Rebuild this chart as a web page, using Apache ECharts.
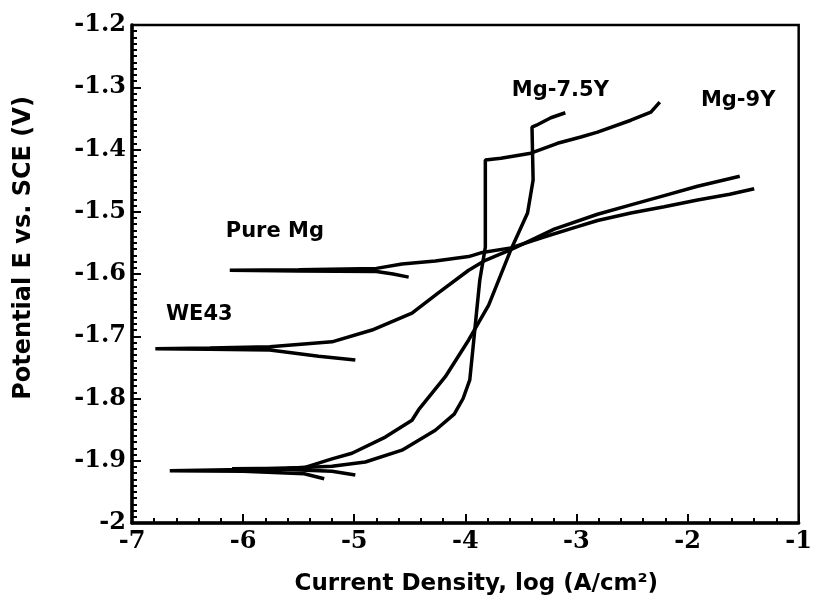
<!DOCTYPE html>
<html>
<head>
<meta charset="utf-8">
<script src="https://cdn.jsdelivr.net/npm/echarts@6/dist/echarts.min.js"></script>
<style>html,body{margin:0;padding:0;background:#fff;}#c{width:815px;height:601px;}</style>
</head>
<body>
<div id="c"></div>
<script>
// Pure Mg
var pureMgX = [-4.51, -4.65, -4.80, -5.50, -6.12, -5.50, -4.80, -4.57, -4.27, -3.97, -3.86, -3.59, -3.30, -2.99, -2.81, -2.51, -2.21, -1.91, -1.62, -1.40];
var pureMgY = [-1.605, -1.600, -1.596, -1.595, -1.594, -1.593, -1.591, -1.584, -1.579, -1.572, -1.566, -1.558, -1.541, -1.524, -1.514, -1.502, -1.492, -1.481, -1.472, -1.463];
// WE43
var we43X = [-4.99, -5.32, -5.76, -6.30, -6.79, -6.30, -5.76, -5.20, -4.84, -4.48, -4.24, -3.97, -3.82, -3.59, -3.20, -2.81, -2.51, -2.21, -1.91, -1.53];
var we43Y = [-1.738, -1.732, -1.722, -1.721, -1.720, -1.719, -1.717, -1.709, -1.690, -1.663, -1.630, -1.594, -1.578, -1.561, -1.528, -1.504, -1.489, -1.474, -1.459, -1.443];
// Mg-7.5Y
var mg75X = [-5.27, -5.45, -6.00, -6.66, -6.00, -5.45, -5.20, -5.02, -4.72, -4.48, -4.42, -4.18, -3.97, -3.79, -3.59, -3.44, -3.39, -3.40, -3.36, -3.23, -3.10];
var mg75Y = [-1.929, -1.921, -1.917, -1.916, -1.914, -1.911, -1.897, -1.888, -1.862, -1.835, -1.818, -1.765, -1.706, -1.650, -1.561, -1.502, -1.449, -1.364, -1.361, -1.349, -1.341];
// Mg-9Y
var mg9X = [-4.99, -5.20, -5.60, -6.10, -5.60, -5.20, -4.90, -4.57, -4.27, -4.10, -4.02, -3.96, -3.93, -3.90, -3.87, -3.82, -3.82, -3.68, -3.41, -3.17, -2.96, -2.81, -2.51, -2.33, -2.25];
var mg9Y = [-1.923, -1.917, -1.914, -1.913, -1.912, -1.909, -1.902, -1.883, -1.851, -1.825, -1.800, -1.770, -1.717, -1.663, -1.610, -1.557, -1.417, -1.414, -1.406, -1.390, -1.380, -1.372, -1.353, -1.340, -1.324];

// curve labels (data coordinates)
var labelNames = ['Pure Mg', 'WE43', 'Mg-7.5Y', 'Mg-9Y'];
var labelX = [-5.71, -6.39, -3.14, -1.54];
var labelY = [-1.533, -1.666, -1.306, -1.322];

var xTitle = 'Current Density, log (A/cm\u00B2)';
var yTitle = 'Potential E vs. SCE (V)';

function zip(xs, ys) { return xs.map(function (x, i) { return [x, ys[i]]; }); }

var lineStyle = { color: '#000', width: 3.5 };
function curve(name, xs, ys) {
  return { name: name, type: 'line', data: zip(xs, ys), showSymbol: false, symbol: 'none',
           lineStyle: lineStyle, itemStyle: { color: '#000' }, smooth: false, z: 3, animation: false };
}

var chart = echarts.init(document.getElementById('c'));
chart.setOption({
  backgroundColor: '#fff',
  animation: false,
  grid: { left: 132, right: 13, top: 25, bottom: 78, show: true, borderColor: '#000', borderWidth: 2.5 },
  xAxis: {
    type: 'value', min: -7, max: -1, interval: 1,
    axisLine: { show: true, lineStyle: { color: '#000', width: 3.5 } },
    axisTick: { show: true, inside: true, length: 9, lineStyle: { color: '#000', width: 2 } },
    minorTick: { show: true, splitNumber: 5, length: 5, lineStyle: { color: '#000', width: 2 } },
    splitLine: { show: false },
    axisLabel: { color: '#000', fontFamily: 'DejaVu Serif', fontWeight: 'bold', fontSize: 24, margin: 7 },
    name: xTitle, nameLocation: 'middle', nameGap: 50,
    nameTextStyle: { color: '#000', fontFamily: 'DejaVu Sans', fontWeight: 'bold', fontSize: 23, padding: [0, 0, 0, 22] }
  },
  yAxis: {
    type: 'value', min: -2, max: -1.2, interval: 0.1,
    axisLine: { show: true, lineStyle: { color: '#000', width: 3.5 } },
    axisTick: { show: true, inside: true, length: 9, lineStyle: { color: '#000', width: 2 } },
    minorTick: { show: true, splitNumber: 10, length: 5, lineStyle: { color: '#000', width: 2 } },
    splitLine: { show: false },
    axisLabel: { color: '#000', fontFamily: 'DejaVu Serif', fontWeight: 'bold', fontSize: 24, margin: 6,
                 formatter: function (v) { return String(Math.round(v * 10) / 10); } },
    name: yTitle, nameLocation: 'middle', nameGap: 96, nameRotate: 90,
    nameTextStyle: { color: '#000', fontFamily: 'DejaVu Sans', fontWeight: 'bold', fontSize: 24, padding: [0, 0, 0, 52] }
  },
  series: [
    curve('Pure Mg', pureMgX, pureMgY),
    curve('WE43', we43X, we43Y),
    curve('Mg-7.5Y', mg75X, mg75Y),
    curve('Mg-9Y', mg9X, mg9Y),
    {
      type: 'scatter', symbol: 'circle', symbolSize: 1, z: 4, silent: true, animation: false,
      itemStyle: { color: 'rgba(0,0,0,0)' },
      data: labelNames.map(function (n, i) { return { name: n, value: [labelX[i], labelY[i]] }; }),
      label: { show: true, position: [0, 0], align: 'center', verticalAlign: 'middle', formatter: '{b}',
               color: '#000', opacity: 1, textBorderWidth: 0,
               fontFamily: 'DejaVu Sans', fontWeight: 'bold', fontSize: 21 }
    }
  ]
});
</script>
</body>
</html>
